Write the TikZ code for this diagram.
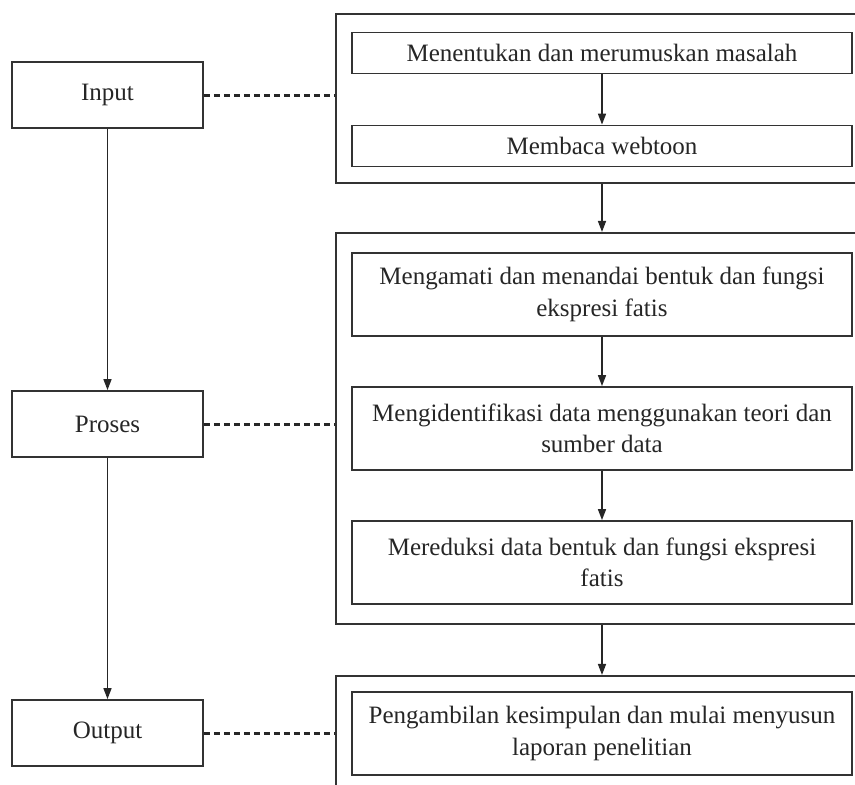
\documentclass[tikz,border=0pt]{standalone}
\usepackage{fontspec}
\setmainfont{Liberation Serif}
\usetikzlibrary{arrows.meta}

\begin{document}
\begin{tikzpicture}[
  x=1pt, y=-1pt,
  every node/.style={font=\fontsize{25}{31.5}\selectfont, text=black!85},
  stage/.style={rectangle, draw=black!80, line width=1.8pt, minimum width=191pt, minimum height=66pt, inner sep=0pt},
  task/.style={rectangle, draw=black!80, line width=1.8pt, minimum width=500pt, inner sep=0pt, align=center},
  group/.style={rectangle, draw=black!80, line width=2.1pt, minimum width=560pt, inner sep=0pt},
  arrow/.style={-{Triangle[length=11pt,width=8pt]}, line width=1.6pt, draw=black!85, fill=black!85},
  link/.style={dash pattern=on 6.5pt off 3.5pt, line width=3pt, draw=black!85}
]
\clip (0,0) rectangle (855,785);

% Left column - stages
\node[stage] (input) at (107.5,95) {Input};
\node[stage] (proses) at (107.5,424) {Proses};
\node[stage] (output) at (107.5,733) {Output};

% Right column - groups
\node[group, minimum height=169pt] (g1) at (616,98.5) {};
\node[group, minimum height=391pt] (g2) at (616,428.5) {};
\node[group, minimum height=180pt] (g3) at (616,766) {};

% Tasks inside the groups
\node[task, minimum height=41pt] (b1) at (602,53) {Menentukan dan merumuskan masalah};
\node[task, minimum height=41pt] (b2) at (602,146) {Membaca webtoon};
\node[task, minimum height=83pt] (b3) at (602,294.5) {Mengamati dan menandai bentuk dan fungsi\\ekspresi fatis};
\node[task, minimum height=83pt] (b4) at (602,428.5) {Mengidentifikasi data menggunakan teori dan\\sumber data};
\node[task, minimum height=83pt] (b5) at (602,562.5) {Mereduksi data bentuk dan fungsi ekspresi\\fatis};
\node[task, minimum height=83pt] (b6) at (602,733.5) {Pengambilan kesimpulan dan mulai menyusun\\laporan penelitian};

% Arrows
\draw[arrow] (input) -- (proses);
\draw[arrow] (proses) -- (output);
\draw[arrow] (b1) -- (b2);
\draw[arrow] (b2.south |- g1.south) -- (b3.north |- g2.north);
\draw[arrow] (b3) -- (b4);
\draw[arrow] (b4) -- (b5);
\draw[arrow] (b5.south |- g2.south) -- (b6.north |- g3.north);

% Dashed links
\draw[link] (input.east) -- (input.east -| g1.west);
\draw[link] (proses.east) -- (proses.east -| g2.west);
\draw[link] (output.east) -- (output.east -| g3.west);

\end{tikzpicture}
\end{document}
